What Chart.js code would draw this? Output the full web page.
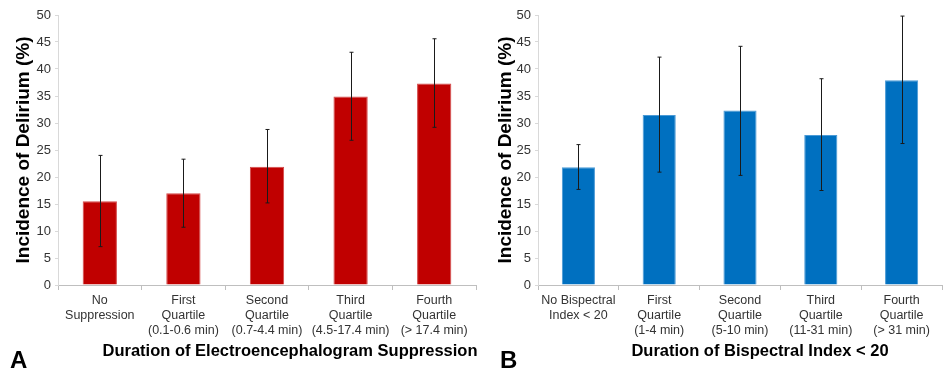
<!DOCTYPE html>
<html>
<head>
<meta charset="utf-8">
<script src="https://cdn.jsdelivr.net/npm/chart.js@4/dist/chart.umd.min.js"></script>
<style>
  body { margin: 0; background: #fff; }
  #wrap { position: relative; width: 944px; height: 374px; font-family: "Liberation Sans", Arial, sans-serif; }
  .box { position: absolute; top: 0; height: 374px; }
  #boxA { left: 0; width: 478px; }
  #boxB { left: 478px; width: 466px; }
  .xtitle { position: absolute; font-weight: bold; font-size: 16.5px; color: #000; white-space: nowrap; transform: translateX(-50%); }
  .letter { position: absolute; font-size: 24px; font-weight: bold; color: #000; }
</style>
</head>
<body>
<div id="wrap">
  <div class="box" id="boxA"><canvas id="chartA"></canvas></div>
  <div class="box" id="boxB"><canvas id="chartB"></canvas></div>
  <div class="xtitle" style="left:290px; top:341px;">Duration of Electroencephalogram Suppression</div>
  <div class="xtitle" style="left:760px; top:341px;">Duration of Bispectral Index &lt; 20</div>
  <div class="letter" style="left:10px; top:346px;">A</div>
  <div class="letter" style="left:500px; top:346px;">B</div>
</div>
<script>
// panel A - EEG suppression
const categoriesA = [
  ['No', 'Suppression'],
  ['First', 'Quartile', '(0.1-0.6 min)'],
  ['Second', 'Quartile', '(0.7-4.4 min)'],
  ['Third', 'Quartile', '(4.5-17.4 min)'],
  ['Fourth', 'Quartile', '(> 17.4 min)']
];
const incidenceA = [15.5, 17.0, 21.9, 34.9, 37.3];
const lowerA = [7.1, 10.7, 15.2, 26.8, 29.2];
const upperA = [24.0, 23.3, 28.8, 43.1, 45.6];

// panel B - BIS < 20
const categoriesB = [
  ['No Bispectral', 'Index < 20'],
  ['First', 'Quartile', '(1-4 min)'],
  ['Second', 'Quartile', '(5-10 min)'],
  ['Third', 'Quartile', '(11-31 min)'],
  ['Fourth', 'Quartile', '(> 31 min)']
];
const incidenceB = [21.8, 31.5, 32.3, 27.8, 37.9];
const lowerB = [17.7, 20.9, 20.3, 17.5, 26.2];
const upperB = [26.0, 42.2, 44.2, 38.2, 49.8];

const yMin = 0, yMax = 50, yStep = 5;
const yTitle = 'Incidence of Delirium (%)';

// draws the whiskers from the lower/upper arrays
const errorBars = {
  id: 'errorBars',
  afterDatasetsDraw(chart, args, opts) {
    const ctx = chart.ctx;
    const xs = chart.scales.x, ys = chart.scales.y;
    ctx.save();
    ctx.strokeStyle = '#1a1a1a';
    ctx.lineWidth = 1;
    opts.lower.forEach(function (lo, i) {
      const x = Math.round(xs.getPixelForValue(i)) + 0.5;
      const yl = ys.getPixelForValue(lo);
      const yh = ys.getPixelForValue(opts.upper[i]);
      ctx.beginPath();
      ctx.moveTo(x, yl); ctx.lineTo(x, yh);
      ctx.moveTo(x - 2, yl); ctx.lineTo(x + 2, yl);
      ctx.moveTo(x - 2, yh); ctx.lineTo(x + 2, yh);
      ctx.stroke();
    });
    ctx.restore();
  }
};

function buildPanel(id, labels, values, lower, upper, color, edge, axisWidth, titlePad) {
  const ctx = document.getElementById(id);
  return new Chart(ctx.getContext('2d'), {
    type: 'bar',
    data: {
      labels: labels,
      datasets: [{
        data: values,
        backgroundColor: color,
        borderColor: edge,
        borderWidth: 1,
        barPercentage: 0.41,
        categoryPercentage: 1
      }]
    },
    options: {
      responsive: true,
      maintainAspectRatio: false,
      animation: false,
      layout: { padding: { top: 15, right: 2, left: 0, bottom: 0 } },
      plugins: {
        legend: { display: false },
        tooltip: { enabled: false },
        errorBars: { lower: lower, upper: upper }
      },
      scales: {
        x: {
          grid: { display: true, drawOnChartArea: false, drawTicks: true, tickLength: 5, color: '#bfbfbf', offset: true },
          border: { color: '#bfbfbf' },
          ticks: {
            color: '#333', autoSkip: false, maxRotation: 0, padding: 3,
            font: { family: '"Liberation Sans", Arial', size: 12.5, lineHeight: 1.2 }
          },
          afterFit: function (s) { s.height = 89; }
        },
        y: {
          min: yMin, max: yMax,
          grid: { display: true, drawOnChartArea: false, drawTicks: true, tickLength: 3, color: '#d9d9d9' },
          border: { color: '#d9d9d9' },
          ticks: {
            stepSize: yStep, color: '#333', padding: 4,
            font: { family: '"Liberation Sans", Arial', size: 13 }
          },
          title: {
            display: true, text: yTitle, color: '#000',
            font: { family: '"Liberation Sans", Arial', size: 19, weight: 'bold' },
            padding: { top: titlePad, bottom: 0 }
          },
          afterFit: function (s) { s.width = axisWidth; }
        }
      }
    },
    plugins: [errorBars]
  });
}

buildPanel('chartA', categoriesA, incidenceA, lowerA, upperA, '#C00000', '#D44848', 58, 12);
buildPanel('chartB', categoriesB, incidenceB, lowerB, upperB, '#0070C0', '#4A9AD6', 60, 16);
</script>
</body>
</html>
